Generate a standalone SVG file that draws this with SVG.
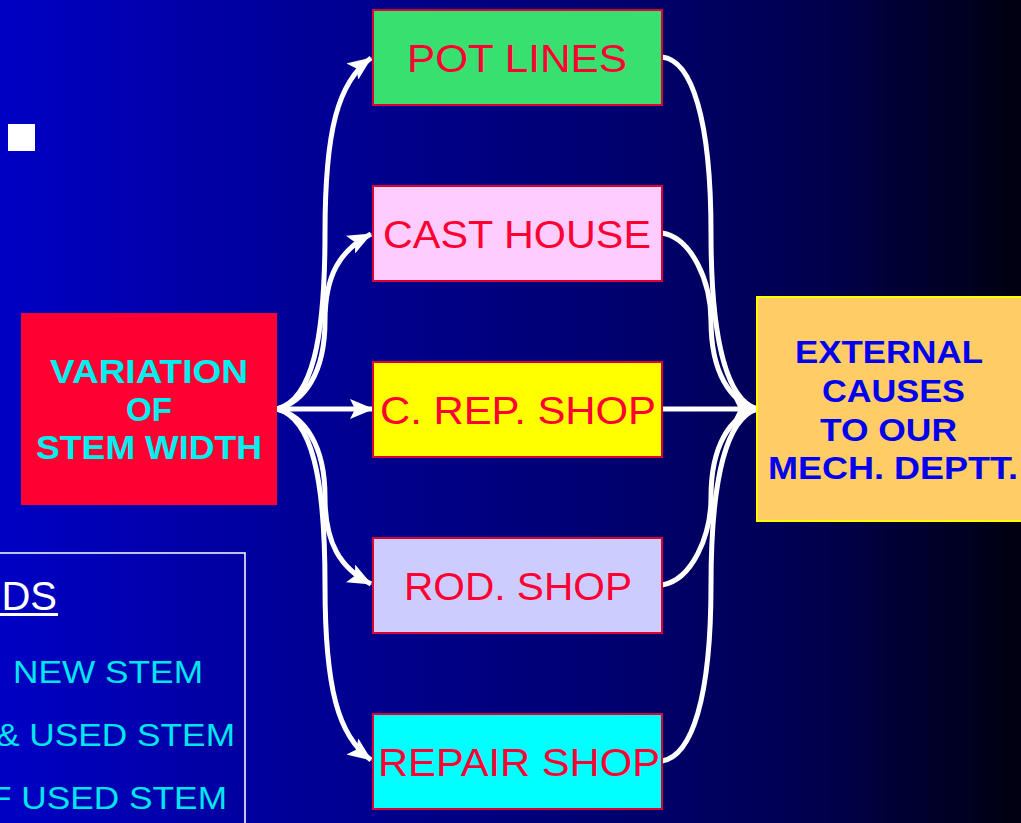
<svg xmlns="http://www.w3.org/2000/svg" width="1021" height="823" viewBox="0 0 1021 823">
<defs>
<linearGradient id="bg" x1="0" y1="0" x2="1" y2="0">
<stop offset="0" stop-color="#0000C4"/>
<stop offset="0.3" stop-color="#000096"/>
<stop offset="0.6" stop-color="#000070"/>
<stop offset="0.8" stop-color="#00004E"/>
<stop offset="1" stop-color="#000010"/>
</linearGradient>
<marker id="arr" viewBox="0 0 24 20" refX="23" refY="10" markerWidth="24" markerHeight="20" markerUnits="userSpaceOnUse" orient="auto">
<path d="M0,0 L24,10 L0,20 L5,10 z" fill="#FFFFFF"/>
</marker>
</defs>
<style>
.box{stroke:#DD0033;stroke-width:2}
.lbl{font-family:"Liberation Sans",Arial,sans-serif;font-size:39px;fill:#FF0033}
.bold{font-family:"Liberation Sans",Arial,sans-serif;font-weight:bold;fill:#00F0F0}
.ext{font-family:"Liberation Sans",Arial,sans-serif;font-weight:bold;font-size:31px;fill:#0000EE}
.leg{font-family:"Liberation Sans",Arial,sans-serif;font-size:32px;fill:#00E6F0}
.con{fill:none;stroke:#FFFFFF;stroke-width:5}
</style>
<rect x="0" y="0" width="1021" height="823" fill="url(#bg)"/>
<rect x="8" y="124" width="27" height="27" fill="#FFFFFF"/>

<g id="legend">
<rect x="-10" y="553" width="255" height="300" fill="none" stroke="#FFFFFF" stroke-width="1.5"/>
<text x="57" y="610" text-anchor="end" font-family="Liberation Sans, Arial, sans-serif" font-size="40" fill="#FFFFFF">DS</text>
<rect x="0" y="613" width="58" height="3" fill="#FFFFFF"/>
<text class="leg" x="13" y="683" textLength="190" lengthAdjust="spacingAndGlyphs">NEW STEM</text>
<text class="leg" x="-4" y="746" textLength="239" lengthAdjust="spacingAndGlyphs">&amp; USED STEM</text>
<text class="leg" x="-10" y="809" textLength="237" lengthAdjust="spacingAndGlyphs">F USED STEM</text>
</g>

<g id="connectors">
<path class="con" d="M277,409 C312,400 325,340 325,233 C325,130 338,82 371,58" marker-end="url(#arr)"/>
<path class="con" d="M277,409 C305,402 325,372 325,321 C325,275 340,250 371,234" marker-end="url(#arr)"/>
<path class="con" d="M277,409 L373,409" marker-end="url(#arr)"/>
<path class="con" d="M277,409 C305,416 325,446 325,497 C325,543 340,568 371,584" marker-end="url(#arr)"/>
<path class="con" d="M277,409 C312,418 325,478 325,585 C325,688 338,736 371,760" marker-end="url(#arr)"/>
<path class="con" d="M662,57 C692,60 711,120 711,233 C711,345 728,400 757,409"/>
<path class="con" d="M662,233 C692,238 711,282 711,321 C711,372 730,402 757,409"/>
<path class="con" d="M662,409 L757,409" marker-end="url(#arr)"/>
<path class="con" d="M662,585 C692,580 711,536 711,497 C711,446 730,416 757,409"/>
<path class="con" d="M662,761 C692,756 711,698 711,585 C711,473 728,418 757,409"/>
</g>

<g id="variation">
<rect x="21" y="313" width="256" height="192" fill="#FF0033"/>
<text class="bold" font-size="33" x="50" y="383" textLength="198" lengthAdjust="spacingAndGlyphs">VARIATION</text>
<text class="bold" font-size="33" x="126" y="421" textLength="46" lengthAdjust="spacingAndGlyphs">OF</text>
<text class="bold" font-size="33" x="36" y="459" textLength="226" lengthAdjust="spacingAndGlyphs">STEM WIDTH</text>
</g>

<g id="potlines">
<rect class="box" x="373" y="10" width="289" height="95" fill="#38E070"/>
<text class="lbl" x="407" y="72" textLength="220" lengthAdjust="spacingAndGlyphs">POT LINES</text>
</g>
<g id="casthouse">
<rect class="box" x="373" y="186" width="289" height="95" fill="#FFCCFF"/>
<text class="lbl" x="383" y="248" textLength="268" lengthAdjust="spacingAndGlyphs">CAST HOUSE</text>
</g>
<g id="crepshop">
<rect class="box" x="373" y="362" width="289" height="95" fill="#FFFF00"/>
<text class="lbl" x="380" y="424" textLength="276" lengthAdjust="spacingAndGlyphs">C. REP. SHOP</text>
</g>
<g id="rodshop">
<rect class="box" x="373" y="538" width="289" height="95" fill="#CCCCFF"/>
<text class="lbl" x="404" y="600" textLength="228" lengthAdjust="spacingAndGlyphs">ROD. SHOP</text>
</g>
<g id="repairshop">
<rect class="box" x="373" y="714" width="289" height="95" fill="#00FFFF"/>
<text class="lbl" x="378" y="776" textLength="282" lengthAdjust="spacingAndGlyphs">REPAIR SHOP</text>
</g>

<g id="external">
<rect x="757" y="297" width="280" height="224" fill="#FFCC66" stroke="#FFFF00" stroke-width="2"/>
<text class="ext" x="795" y="363" textLength="188" lengthAdjust="spacingAndGlyphs">EXTERNAL</text>
<text class="ext" x="822" y="402" textLength="143" lengthAdjust="spacingAndGlyphs">CAUSES</text>
<text class="ext" x="820" y="441" textLength="137" lengthAdjust="spacingAndGlyphs">TO OUR</text>
<text class="ext" x="768" y="479" textLength="250" lengthAdjust="spacingAndGlyphs">MECH. DEPTT.</text>
</g>
</svg>
